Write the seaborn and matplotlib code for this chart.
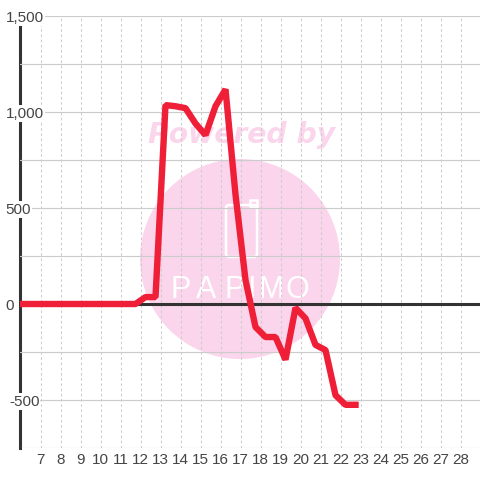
import seaborn as sns
import matplotlib.pyplot as plt
import matplotlib.patches as mpatches
import matplotlib.transforms as mtrans
import numpy as np
import pandas as pd

days = [5.75, 6.25, 6.75, 7.25, 7.75, 8.25, 8.75, 9.25, 9.75, 10.25, 10.75, 11.25, 11.75,
        12.25, 12.75, 13.25, 13.75, 14.25, 14.75, 15.25, 15.75, 16.25, 16.75, 17.25, 17.75,
        18.25, 18.75, 19.25, 19.75, 20.25, 20.75, 21.25, 21.75, 22.25, 22.75]
values = [0, 0, 0, 0, 0, 0, 0, 0, 0, 0, 0, 0, 0,
          36, 36, 1036, 1030, 1020, 940, 880, 1030, 1118, 570, 125, -120,
          -172, -172, -290, -20, -75, -213, -240, -475, -525, -525]

x_ticks = list(range(7, 29))
y_ticks = [-750, -500, -250, 0, 250, 500, 750, 1000, 1250, 1500]
y_labels = ['', '-500', '', '0', '', '500', '', '1,000', '', '1,500']

sns.set_style("white")
plt.rcParams['font.family'] = ['Liberation Sans', 'DejaVu Sans']

fig = plt.figure(figsize=(4.8, 4.8), dpi=100)
ax = fig.add_axes([20 / 480, 32 / 480, 460 / 480, 432 / 480])

df = pd.DataFrame({'day': days, 'value': values})
sns.lineplot(data=df, x='day', y='value', ax=ax, color='#f01f38', linewidth=4.6,
             estimator=None, zorder=5, solid_joinstyle='bevel', solid_capstyle='projecting')

ax.set_xlim(5.975, 28.975)
ax.set_ylim(-750, 1500)
ax.set_xlabel('')
ax.set_ylabel('')

ax.set_xticks(x_ticks)
ax.set_yticks(y_ticks)
ax.set_yticklabels(y_labels)
ax.tick_params(axis='both', length=0, labelsize=11, labelcolor='#444444')
ax.tick_params(axis='x', pad=3.5)
ax.xaxis.grid(True, color='#cccccc', linewidth=0.75, linestyle=(0, (2.5, 2.5)))
ax.yaxis.grid(True, color='#cccccc', linewidth=0.85, linestyle='-')

# y labels sit on top of the axis line, with a white box behind
for tick, lab in zip(ax.yaxis.get_major_ticks(), y_labels):
    tick.set_pad(8.0 if lab == '-500' else 10.2)
    tick.label1.set_ha('left')
    tick.label1.set_va('center_baseline')
    tick.label1.set_bbox(dict(facecolor='white', edgecolor='none', pad=0.8))

for side in ['top', 'right', 'bottom']:
    ax.spines[side].set_visible(False)
ax.spines['left'].set_color('#333333')
ax.spines['left'].set_linewidth(2.2)
ax.spines['left'].set_zorder(2.5)
ax.yaxis.set_zorder(3)
ax.xaxis.set_zorder(1)

ax.axhline(0, color='#333333', linewidth=2.2, zorder=4)

# watermark, in pixels
px = mtrans.IdentityTransform()
ax.add_patch(mpatches.Circle((240, 221), 100, facecolor='#fbd5ec', edgecolor='none',
                             transform=px, zorder=0.2, clip_on=False))
ax.text(241.5, 345, 'Powered by', transform=px, color='#fbd5ec', fontsize=20.3,
        family='DejaVu Sans', weight='bold', style='italic', ha='center', va='center', zorder=0.3)
ax.add_patch(mpatches.FancyBboxPatch((226, 223), 31, 52, boxstyle='round,pad=0,rounding_size=3',
                                     facecolor='none', edgecolor='white', linewidth=1.8,
                                     transform=px, zorder=0.4))
ax.add_patch(mpatches.Rectangle((250, 273), 7, 7, facecolor='none', edgecolor='white', linewidth=1.8,
                                transform=px, zorder=0.4))
for lx, letter in zip([181, 206, 235, 251, 271, 297], 'PAPIMO'):
    ax.text(lx, 190, letter, transform=px, color='white', fontsize=22, family='Liberation Sans',
            ha='center', va='center', zorder=0.4)

fig.savefig('out.png', dpi=100)
